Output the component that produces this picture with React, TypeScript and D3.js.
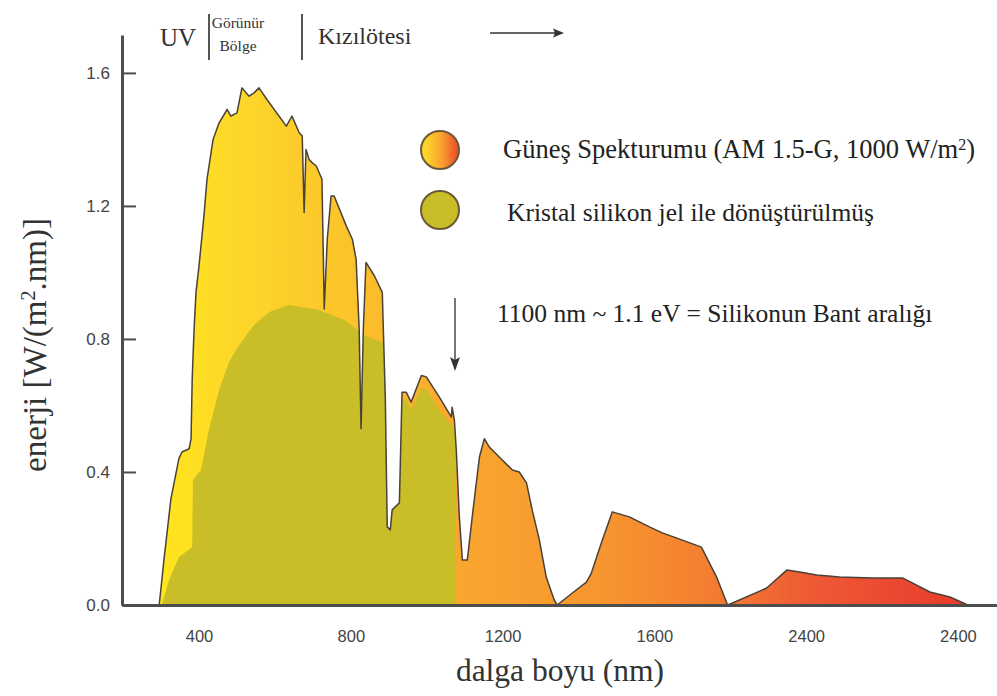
import { useEffect, useRef } from "react";
import * as d3 from "d3";

// AM 1.5-G solar spectrum outline, [wavelength nm, energy W/(m2.nm)]
const solarSpectrum: [number, number][] = [
  [295, 0], [308, 0.14], [326, 0.32], [347, 0.44], [355, 0.46], [374, 0.47], [379, 0.5],
  [382, 0.68], [387, 0.83], [392, 0.94], [400, 1.02], [413, 1.17], [421, 1.28], [437, 1.4],
  [453, 1.45], [474, 1.49], [484, 1.47], [500, 1.48], [513, 1.555], [532, 1.53], [545, 1.54],
  [558, 1.555], [579, 1.52], [630, 1.44], [645, 1.47], [664, 1.42], [672, 1.41], [677, 1.18],
  [682, 1.37], [690, 1.34], [698, 1.33], [709, 1.32], [724, 1.28], [730, 0.89], [738, 1.1],
  [748, 1.23], [756, 1.23], [788, 1.14], [796, 1.12], [804, 1.1], [814, 1.04], [822, 0.83],
  [827, 0.53], [833, 0.83], [840, 1.03], [862, 0.99], [883, 0.94], [891, 0.62], [896, 0.235],
  [904, 0.226], [909, 0.286], [928, 0.307], [935, 0.64], [946, 0.64], [959, 0.61], [986, 0.69],
  [999, 0.686], [1033, 0.626], [1065, 0.565], [1067, 0.595], [1073, 0.556], [1078, 0.466],
  [1086, 0.265], [1094, 0.135], [1107, 0.135], [1120, 0.265], [1139, 0.445], [1152, 0.5],
  [1165, 0.475], [1191, 0.445], [1226, 0.406], [1244, 0.4], [1263, 0.367], [1278, 0.286],
  [1297, 0.195], [1315, 0.084], [1336, 0.015], [1344, 0], [1384, 0.036], [1421, 0.069],
  [1434, 0.096], [1460, 0.186], [1489, 0.28], [1534, 0.265], [1587, 0.235], [1621, 0.217],
  [1674, 0.195], [1724, 0.174], [1764, 0.084], [1793, 0], [1806, 0.006], [1896, 0.051],
  [1949, 0.105], [1983, 0.099], [2028, 0.09], [2088, 0.084], [2175, 0.081], [2255, 0.081],
  [2281, 0.066], [2326, 0.039], [2379, 0.024], [2426, 0],
];

// part converted by crystalline silicon (cut off by the solar curve)
const siliconConverted: [number, number][] = [
  [302, 0], [321, 0.075], [347, 0.144], [382, 0.174], [384, 0.376], [405, 0.406], [426, 0.526],
  [453, 0.647], [479, 0.731], [506, 0.782], [545, 0.842], [585, 0.881], [637, 0.902],
  [717, 0.887], [783, 0.857], [835, 0.812], [883, 0.79], [893, 0.79], [900, 0.3], [928, 0.3],
  [933, 0.617], [946, 0.617], [959, 0.587], [986, 0.653], [999, 0.647], [1033, 0.586],
  [1065, 0.541], [1075, 0.526], [1076, 0], [2500, 0],
];

const yTicks = [0, 0.4, 0.8, 1.2, 1.6];
const xTicks = [400, 800, 1200, 1600, 2000, 2400];
const xTickLabels = ["400", "800", "1200", "1600", "2400", "2400"];

const serif = "'Liberation Serif', 'Times New Roman', serif";
const sans = "'Liberation Sans', Arial, sans-serif";

const App = () => {
  const ref = useRef<SVGSVGElement>(null);

  useEffect(() => {
    const width = 997, height = 696;
    const margin = { top: 35, right: 0, bottom: 91, left: 122 };
    const svg = d3.select(ref.current);
    svg.selectAll("*").remove();

    const x = d3.scaleLinear().domain([197, 2503]).range([margin.left, width - margin.right]);
    const y = d3.scaleLinear().domain([0, 1.714]).range([height - margin.bottom, margin.top]);

    const defs = svg.append("defs");
    const grad = defs.append("linearGradient")
      .attr("id", "solarGrad")
      .attr("gradientUnits", "userSpaceOnUse")
      .attr("x1", x(295)).attr("x2", x(2430)).attr("y1", 0).attr("y2", 0);
    const stops: [number, string][] = [
      [295, "#ffe51d"], [520, "#fdd62a"], [800, "#fcc32b"], [1080, "#f9a72f"],
      [1500, "#f7932f"], [1800, "#f37832"], [2000, "#ee5b35"], [2430, "#e8392c"],
    ];
    stops.forEach(([w, c]) => {
      grad.append("stop").attr("offset", (w - 295) / (2430 - 295)).attr("stop-color", c);
    });
    const lg = defs.append("linearGradient").attr("id", "legendGrad");
    lg.append("stop").attr("offset", 0.15).attr("stop-color", "#fdd42a");
    lg.append("stop").attr("offset", 0.55).attr("stop-color", "#f8a02f");
    lg.append("stop").attr("offset", 1).attr("stop-color", "#ec452b");

    const area = d3.area<[number, number]>()
      .x(d => x(d[0])).y0(y(0)).y1(d => y(d[1]));
    const line = d3.line<[number, number]>()
      .x(d => x(d[0])).y(d => y(d[1]));

    defs.append("clipPath").attr("id", "solarClip")
      .append("path").attr("d", area(solarSpectrum));

    svg.append("path")
      .attr("d", area(solarSpectrum))
      .attr("fill", "url(#solarGrad)");

    svg.append("path")
      .attr("d", area(siliconConverted))
      .attr("fill", "#c9be27")
      .attr("clip-path", "url(#solarClip)");

    svg.append("path")
      .attr("d", line(solarSpectrum))
      .attr("fill", "none")
      .attr("stroke", "#4a4236")
      .attr("stroke-width", 1.5)
      .attr("stroke-linejoin", "round");

    // axes
    const yAxis = d3.axisLeft(y).tickValues(yTicks).tickFormat(d3.format(".1f"))
      .tickSizeInner(-14).tickSizeOuter(0).tickPadding(12);
    const gy = svg.append("g").attr("transform", `translate(${margin.left},0)`).call(yAxis);
    gy.select(".domain").attr("stroke", "#4d4d4d").attr("stroke-width", 3);
    gy.selectAll(".tick line").attr("stroke", "#4d4d4d").attr("stroke-width", 2);
    gy.selectAll(".tick text").attr("font-family", sans).attr("font-size", 17).attr("fill", "#444");

    const xAxis = d3.axisBottom(x).tickValues(xTicks)
      .tickFormat((_d, i) => xTickLabels[i]).tickSize(0).tickPadding(25);
    const gx = svg.append("g").attr("transform", `translate(0,${y(0)})`).call(xAxis);
    gx.select(".domain").attr("stroke", "#4d4d4d").attr("stroke-width", 3);
    gx.selectAll(".tick text").attr("font-family", sans).attr("font-size", 16.5).attr("fill", "#444");

    // axis titles
    svg.append("text")
      .attr("x", 560).attr("y", 681)
      .attr("text-anchor", "middle")
      .attr("font-family", serif).attr("font-size", 31.5).attr("fill", "#333")
      .text("dalga boyu (nm)");
    const yl = svg.append("text")
      .attr("transform", "translate(46,345) rotate(-90)")
      .attr("text-anchor", "middle")
      .attr("font-family", serif).attr("font-size", 33).attr("fill", "#333");
    yl.append("tspan").text("enerji [W/(m");
    yl.append("tspan").attr("baseline-shift", "super").attr("font-size", 20).text("2");
    yl.append("tspan").text(".nm)]");

    // region labels on top
    const top = svg.append("g").attr("font-family", serif).attr("fill", "#333");
    top.append("text").attr("x", 160).attr("y", 46).attr("font-size", 25).text("UV");
    top.append("text").attr("x", 238).attr("y", 28).attr("font-size", 15.5).attr("text-anchor", "middle").text("Görünür");
    top.append("text").attr("x", 238).attr("y", 51).attr("font-size", 15.5).attr("text-anchor", "middle").text("Bölge");
    top.append("text").attr("x", 318).attr("y", 44).attr("font-size", 24).text("Kızılötesi");
    [209, 302].forEach(px => {
      top.append("line").attr("x1", px).attr("x2", px).attr("y1", 14).attr("y2", 60)
        .attr("stroke", "#555").attr("stroke-width", 2);
    });
    top.append("line").attr("x1", 490).attr("x2", 556).attr("y1", 33).attr("y2", 33)
      .attr("stroke", "#333").attr("stroke-width", 1.6);
    top.append("path").attr("d", "M564,33 L553,28.5 L555,33 L553,37.5 Z").attr("fill", "#333");

    // legend
    const leg = svg.append("g");
    leg.append("circle").attr("cx", 440).attr("cy", 150).attr("r", 19)
      .attr("fill", "url(#legendGrad)").attr("stroke", "#6b5a3a").attr("stroke-width", 2);
    leg.append("circle").attr("cx", 440).attr("cy", 210).attr("r", 19)
      .attr("fill", "#c9be27").attr("stroke", "#6b5a3a").attr("stroke-width", 2);
    const t1 = leg.append("text").attr("x", 503).attr("y", 158)
      .attr("font-family", serif).attr("font-size", 26.5).attr("fill", "#222");
    t1.append("tspan").text("Güneş Spekturumu (AM 1.5-G, 1000 W/m");
    t1.append("tspan").attr("baseline-shift", "super").attr("font-size", 16).text("2");
    t1.append("tspan").text(")");
    leg.append("text").attr("x", 507).attr("y", 221)
      .attr("font-family", serif).attr("font-size", 25.5).attr("fill", "#222")
      .text("Kristal silikon jel ile dönüştürülmüş");

    // band gap note
    svg.append("line").attr("x1", 455).attr("x2", 455).attr("y1", 298).attr("y2", 360)
      .attr("stroke", "#555").attr("stroke-width", 1.6);
    svg.append("path").attr("d", "M455,371 L450,357 L455,360 L460,357 Z").attr("fill", "#333");
    svg.append("text").attr("x", 497).attr("y", 322)
      .attr("font-family", serif).attr("font-size", 25.5).attr("fill", "#222")
      .text("1100 nm ~ 1.1 eV = Silikonun Bant aralığı");
  }, []);

  return (
    <svg ref={ref} width={997} height={696}
      style={{ position: "absolute", left: 0, top: 0, background: "#fff" }} />
  );
};

export default App;
